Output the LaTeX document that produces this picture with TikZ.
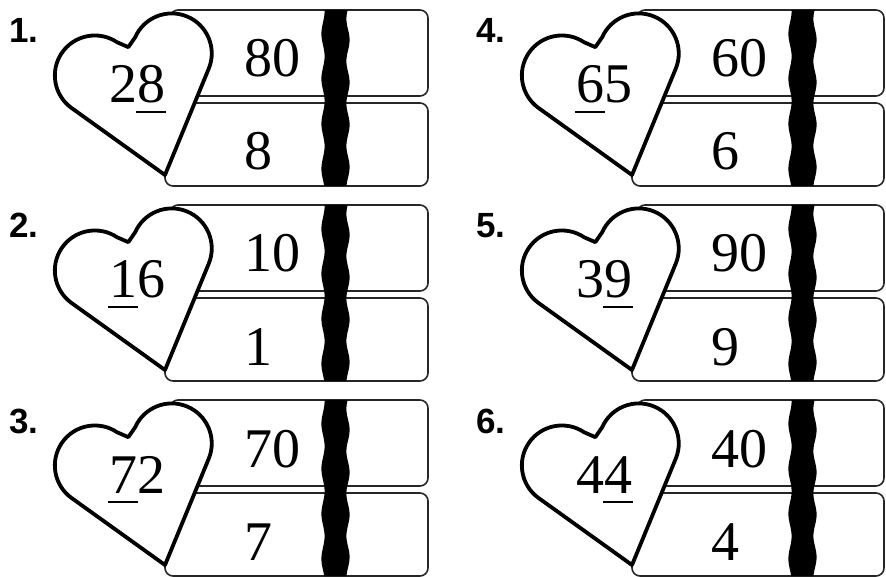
\documentclass[tikz,border=0pt]{standalone}
\usepackage{fontspec}
\setmainfont{Liberation Serif}
\newfontfamily\labelfont{Liberation Sans}
\newcommand\udig[1]{\setbox0=\hbox{#1}\rlap{\kern-1pt\rule[-10pt]{\dimexpr\wd0+2pt\relax}{2pt}}\box0\relax}
\tikzset{
  boxline/.style={draw=black!85, line width=1.6pt, rounded corners=8pt, fill=white},
  heartline/.style={draw=black, line width=3.8pt, line join=round, fill=white},
  numtext/.style={inner sep=0pt, font=\fontsize{56}{60}\selectfont},
  labeltext/.style={inner sep=0pt, font=\labelfont\bfseries\fontsize{35}{38}\selectfont},
  barfill/.style={fill=black}
}
\newcommand\heartitem[8]{%
\begin{scope}[shift={(#1,#2)}]
  \draw[boxline] (170,10) rectangle (#7,96);
  \draw[boxline] (165,103) rectangle (#7,186);
  \fill[barfill] plot[domain=10:186, samples=70] ({323+1.6*sin(8*\x)},\x)
     -- plot[domain=186:10, samples=70] ({348+1.6*sin(8.5*\x+110)},\x) -- cycle;
  \begin{scope}[shift={(165,175)}, rotate=16, y=1pt]
    \draw[heartline] (0,0) -- (71.35,90.15) arc[start angle=-38.4, end angle=140, radius=40]
      -- (0,133) -- (-9.36,140.71) arc[start angle=40, end angle=218.4, radius=40] -- cycle;
  \end{scope}
  \node[labeltext, anchor=base west] (lab#8) at (9,43) {#3};
  \node[numtext, anchor=base] (heart#8) at (137,103) {#4};
  \node[numtext, anchor=base west] (top#8) at (244,77) {#5};
  \node[numtext, anchor=base west] (bot#8) at (244,170) {#6};
\end{scope}}
\begin{document}
\begin{tikzpicture}[x=1pt, y=-1pt]
\useasboundingbox (0,0) rectangle (886,577);
\fill[white] (0,0) rectangle (886,577);
\heartitem{0}{0}{1.}{2\udig{8}}{80}{8}{428}{1}
\heartitem{0}{195}{2.}{\udig{1}6}{10}{1}{428}{2}
\heartitem{0}{390}{3.}{\udig{7}2}{70}{7}{428}{3}
\heartitem{467}{0}{4.}{\udig{6}5}{60}{6}{417}{4}
\heartitem{467}{195}{5.}{3\udig{9}}{90}{9}{417}{5}
\heartitem{467}{390}{6.}{4\udig{4}}{40}{4}{417}{6}
\end{tikzpicture}
\end{document}
